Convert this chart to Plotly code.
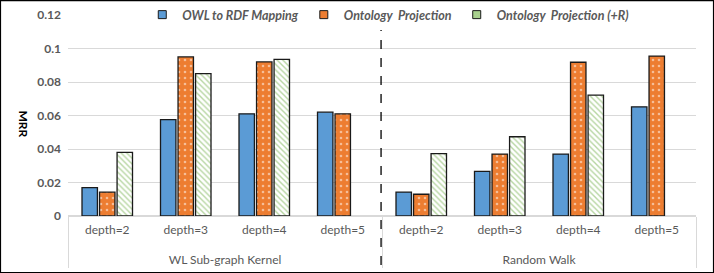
import plotly.graph_objects as go

groups = ["WL Sub-graph Kernel"] * 4 + ["Random Walk"] * 4
depths = ["depth=2", "depth=3", "depth=4", "depth=5"] * 2
owl_rdf = [0.0169, 0.0575, 0.061, 0.062, 0.0143, 0.0267, 0.037, 0.0652]
onto_proj = [0.0143, 0.095, 0.092, 0.061, 0.013, 0.037, 0.0918, 0.0955]
onto_proj_r = [0.038, 0.085, 0.0935, None, 0.0372, 0.0473, 0.0722, None]
series_names = ["OWL to RDF Mapping", "Ontology  Projection", "Ontology  Projection (+R)"]
series_colors = ["#5B9BD5", "#ED7D31", "#A9D18E"]

# group labels sit one line lower, like the reference
group_labels = ["<br>" + g for g in groups]
xcats = [group_labels, depths]

fig = go.Figure()
fig.add_bar(x=xcats, y=owl_rdf, name=series_names[0], showlegend=False,
            marker=dict(color="#5B9BD5", line=dict(color="#1a1a1a", width=1.3)))
fig.add_bar(x=xcats, y=onto_proj, name=series_names[1], showlegend=False,
            marker=dict(color="#ED7D31", line=dict(color="#1a1a1a", width=1.3),
                        pattern=dict(shape=".", fgcolor="#ffffff", bgcolor="#ED7D31",
                                     size=6, solidity=0.15)))
fig.add_bar(x=xcats, y=onto_proj_r, name=series_names[2], showlegend=False,
            marker=dict(color="#ffffff", line=dict(color="#1a1a1a", width=1.3),
                        pattern=dict(shape="\\", fgcolor="#70AD47", bgcolor="#ffffff",
                                     size=4, solidity=0.35)))

# legend proxies (small squares like the reference)
for name, col in zip(series_names, series_colors):
    fig.add_scatter(x=[[group_labels[0]], [depths[0]]], y=[None], mode="markers", name=name,
                    marker=dict(symbol="square", size=8, color=col,
                                line=dict(color="#1a1a1a", width=1)))

fig.add_shape(type="line", xref="paper", yref="paper", x0=0.4985, x1=0.4985,
              y0=-0.244, y1=0.925, line=dict(color="#000000", width=1.3, dash="dash"))
fig.add_shape(type="rect", xref="paper", yref="paper", x0=-0.1075, x1=1.0279,
              y0=-0.281, y1=1.072, line=dict(color="#000000", width=1.2), layer="below")

fig.add_annotation(text="<b>MRR</b>", textangle=90, xref="paper", yref="paper",
                   x=-0.086, y=0.458, showarrow=False,
                   font=dict(size=12, color="#000000"))

fig.update_layout(
    width=714, height=273,
    margin=dict(l=68, r=18, t=15, b=57, autoexpand=False),
    paper_bgcolor="white", plot_bgcolor="white",
    barmode="group", bargap=0.33, bargroupgap=0.12,
    font=dict(family="Lato, Open Sans, sans-serif", color="#595959", size=12),
    legend=dict(orientation="h", x=0.51, xanchor="center", y=1.0, yanchor="middle",
                bgcolor="rgba(255,255,255,0)",
                font=dict(size=12.5, color="#595959", style="italic", weight="bold"),
                itemwidth=30, traceorder="normal"),
    showlegend=True,
)
fig.update_yaxes(range=[0, 0.12], dtick=0.02, showgrid=True, gridcolor="#d9d9d9",
                 zeroline=True, zerolinecolor="#d9d9d9",
                 tickfont=dict(size=12, color="#595959", weight="bold"),
                 ticks="", ticklen=0, ticklabelstandoff=6)
fig.update_xaxes(showline=True, linecolor="#d9d9d9", showdividers=True,
                 dividercolor="#d9d9d9", dividerwidth=1, ticklabelstandoff=3,
                 tickfont=dict(size=12, color="#595959"))
fig.write_html("out.html", config={"displayModeBar": False},
               post_script="document.body.style.margin='0';")
